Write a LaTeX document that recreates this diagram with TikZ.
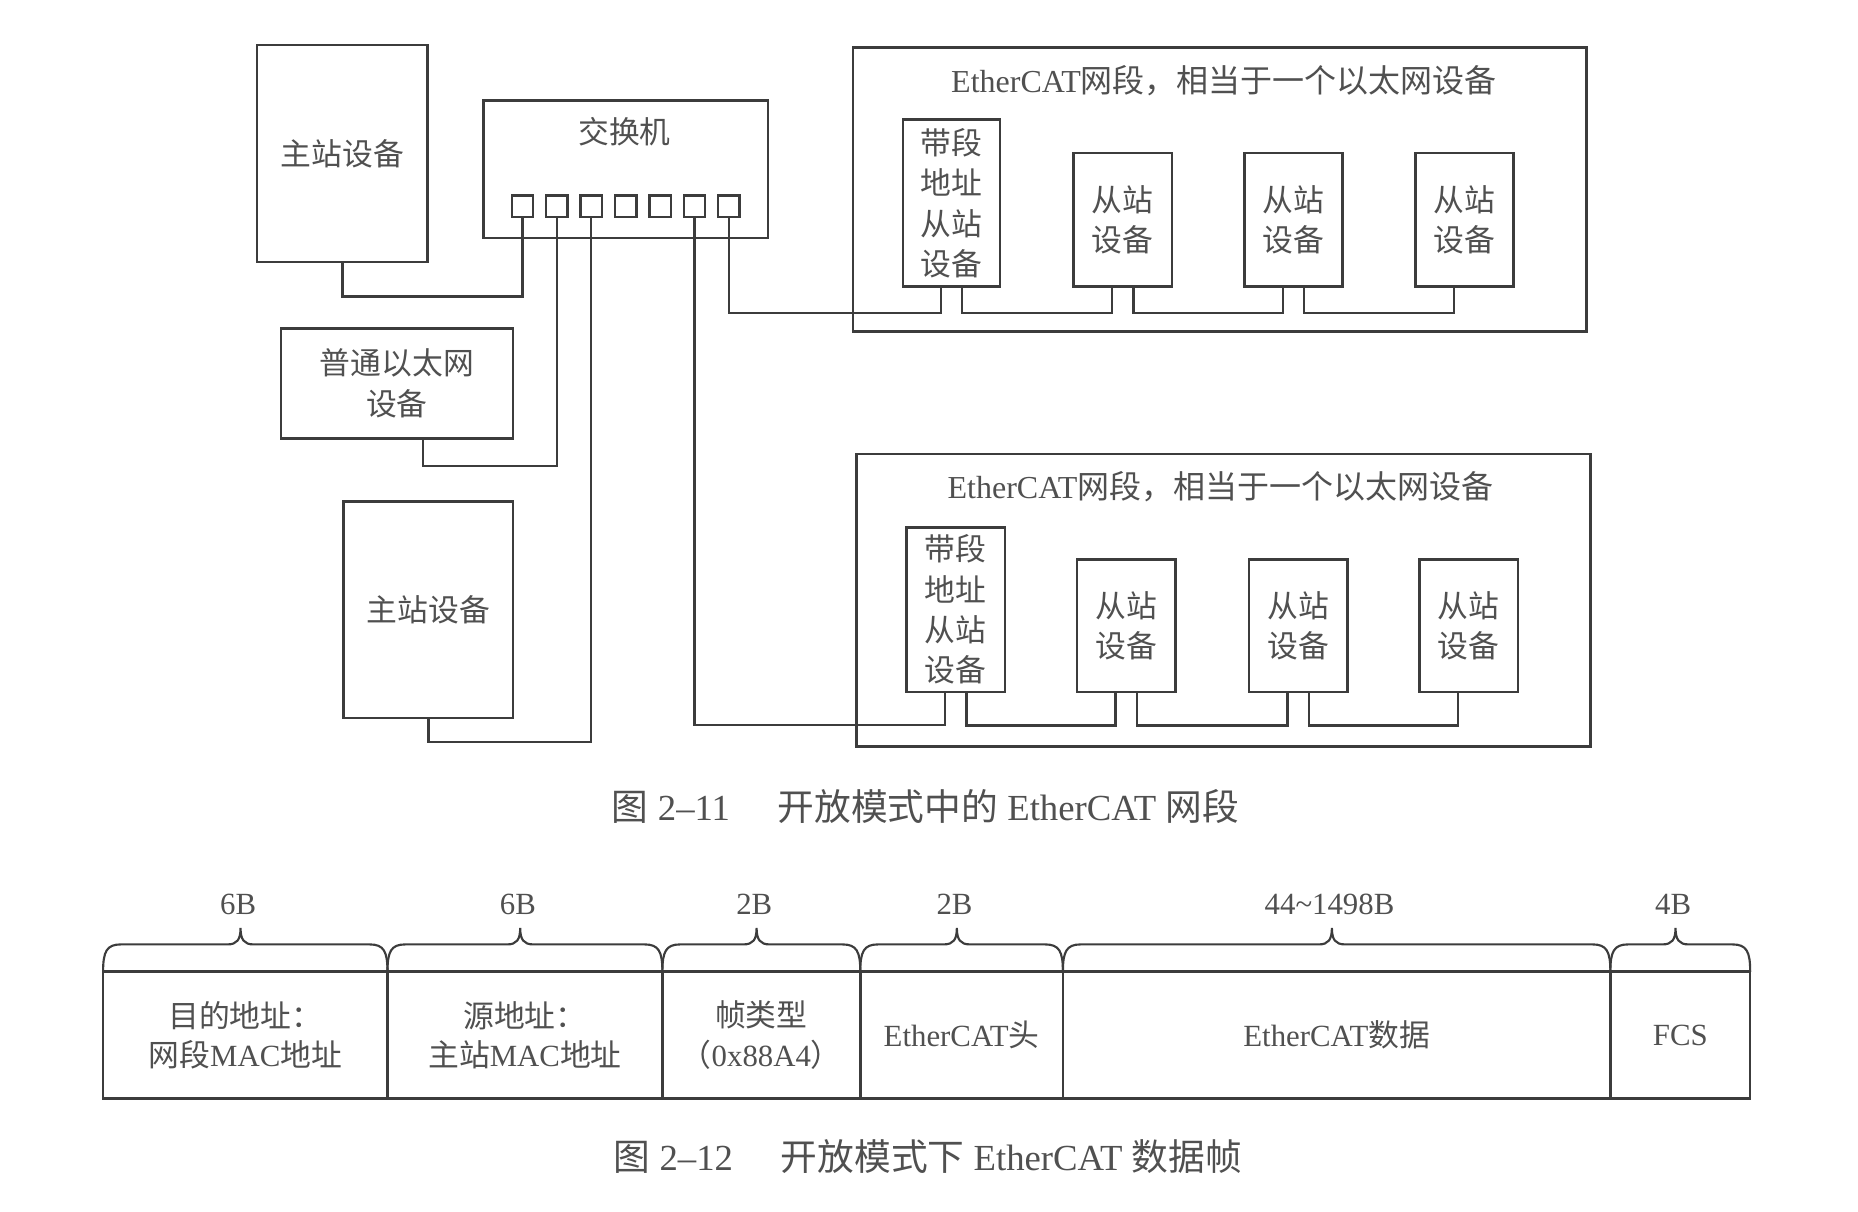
\documentclass[tikz,border=0pt]{standalone}
\usepackage{fontspec}
\setmainfont{Liberation Serif}
\newfontfamily\cjk{Noto Sans CJK SC}
\definecolor{linec}{HTML}{3C3C3C}
\definecolor{textc}{HTML}{505050}
\begin{document}
\begin{tikzpicture}[x=1pt,y=-1pt,
  box/.style={draw=linec,line width=2.2pt,inner sep=0pt,align=center,text=textc,font=\cjk\fontsize{26}{34}\selectfont},
  port/.style={draw=linec,line width=2pt,minimum width=18pt,minimum height=18pt,inner sep=0pt},
  wire/.style={linec,line width=2pt},
  segtitle/.style={text=textc,inner sep=0pt,font=\fontsize{27}{30}\selectfont},
  cell/.style={draw=linec,line width=2.2pt,minimum height=107pt,inner sep=0pt,align=center,text=textc,font=\fontsize{26}{33}\selectfont},
  bracepath/.style={linec,line width=1.8pt},
  sizelab/.style={text=textc,inner sep=0pt,font=\fontsize{26}{30}\selectfont},
  figcap/.style={text=textc,inner sep=0pt,font=\fontsize{31}{36}\selectfont}]
\useasboundingbox (0,0) rectangle (1568,1022);

% master, switch and plain ethernet device
\node[box,minimum width=144pt,minimum height=183pt] (m1) at (289,129.5) {主站设备};
\node[box,minimum width=240pt,minimum height=116pt] (sw) at (528,143) {};
\node[text=textc,font=\cjk\fontsize{26}{30}\selectfont] (swlab) at (527,111) {交换机};
\foreach \i in {1,...,7}
  \node[port] (p\i) at ({441+29*(\i-1)},174) {};
\node[box,minimum width=196pt,minimum height=93pt] (eth) at (335,323.5) {普通以太网\\设备};
\node[box,minimum width=143pt,minimum height=183pt] (m2) at (361.5,514.5) {主站设备};

% EtherCAT segment 1
\node[box,minimum width=619pt,minimum height=240pt] (seg1) at (1029.5,160) {};
\node[segtitle] (t1) at (1033,68) {EtherCAT{\cjk 网段，相当于一个以太网设备}};
\node[box,minimum width=82pt,minimum height=141pt] (a1) at (803,171.5) {带段\\地址\\从站\\设备};
\foreach \x [count=\i] in {947.5,1091.5,1236}
  \node[box,minimum width=83pt,minimum height=113pt] (s1\i) at (\x,185.5) {从站\\设备};

% EtherCAT segment 2
\node[box,minimum width=619pt,minimum height=247pt] (seg2) at (1032.5,506.5) {};
\node[segtitle] (t2) at (1030,411) {EtherCAT{\cjk 网段，相当于一个以太网设备}};
\node[box,minimum width=83pt,minimum height=139pt] (a2) at (806.5,514.5) {带段\\地址\\从站\\设备};
\foreach \x [count=\i] in {950.5,1095.5,1239.5}
  \node[box,minimum width=83pt,minimum height=112pt] (s2\i) at (\x,528) {从站\\设备};

% cables
\draw[wire] (m1.south) -- ++(0,28) -| (p1.south);
\draw[wire] ([xshift=22pt]eth.south) -- ++(0,22) -| (p2.south);
\draw[wire] (m2.south) -- ++(0,19) -| (p3.south);
\draw[wire] (p7.south) -- ++(0,80) -| ([xshift=-9pt]a1.south);
\draw[wire] ([xshift=9pt]a1.south) -- ++(0,21) -| ([xshift=-9pt]s11.south);
\draw[wire] ([xshift=9pt]s11.south) -- ++(0,21) -| ([xshift=-9pt]s12.south);
\draw[wire] ([xshift=9pt]s12.south) -- ++(0,21) -| ([xshift=-9pt]s13.south);
\draw[wire] (p6.south) -- ++(0,428) -| ([xshift=-9pt]a2.south);
\draw[wire] ([xshift=9pt]a2.south) -- ++(0,27) -| ([xshift=-9pt]s21.south);
\draw[wire] ([xshift=9pt]s21.south) -- ++(0,27) -| ([xshift=-9pt]s22.south);
\draw[wire] ([xshift=9pt]s22.south) -- ++(0,27) -| ([xshift=-9pt]s23.south);

\node[figcap] (cap1) at (781,681) {{\cjk 图} 2--11\hspace{1.3em}{\cjk 开放模式中的} EtherCAT {\cjk 网段}};

% frame
\node[cell,minimum width=240pt] (f1) at (207,873.5) {{\cjk 目的地址：}\\{\cjk 网段}MAC{\cjk 地址}};
\node[cell,minimum width=232pt] (f2) at (443,873.5) {{\cjk 源地址：}\\{\cjk 主站}MAC{\cjk 地址}};
\node[cell,minimum width=167pt] (f3) at (642.5,873.5) {{\cjk 帧类型}\\{\cjk （}0x88A4{\cjk ）}};
\node[cell,minimum width=171pt] (f4) at (811.5,873.5) {EtherCAT{\cjk 头}};
\node[cell,minimum width=462pt] (f5) at (1128,873.5) {EtherCAT{\cjk 数据}};
\node[cell,minimum width=118pt] (f6) at (1418,873.5) {FCS};

\foreach \xl/\xr/\lab [count=\i] in {87/327/6B,327/559/6B,559/726/2B,726/897/2B,897/1359/{44\textasciitilde1498B},1359/1477/4B}{
  \pgfmathsetmacro\xm{(\xl+\xr)/2-4}
  \draw[bracepath] (\xl,820) .. controls (\xl,803) and (\xl+3,797) .. (\xl+15,797) -- (\xm-11,797)
    .. controls (\xm-3,797) and (\xm,793) .. (\xm,783) .. controls (\xm,793) and (\xm+3,797) .. (\xm+11,797)
    -- (\xr-15,797) .. controls (\xr-3,797) and (\xr,803) .. (\xr,820);
  \node[sizelab] (sz\i) at (\xm-2,763) {\lab};
}

\node[figcap] (cap2) at (783,976) {{\cjk 图} 2--12\hspace{1.3em}{\cjk 开放模式下} EtherCAT {\cjk 数据帧}};
\end{tikzpicture}
\end{document}
